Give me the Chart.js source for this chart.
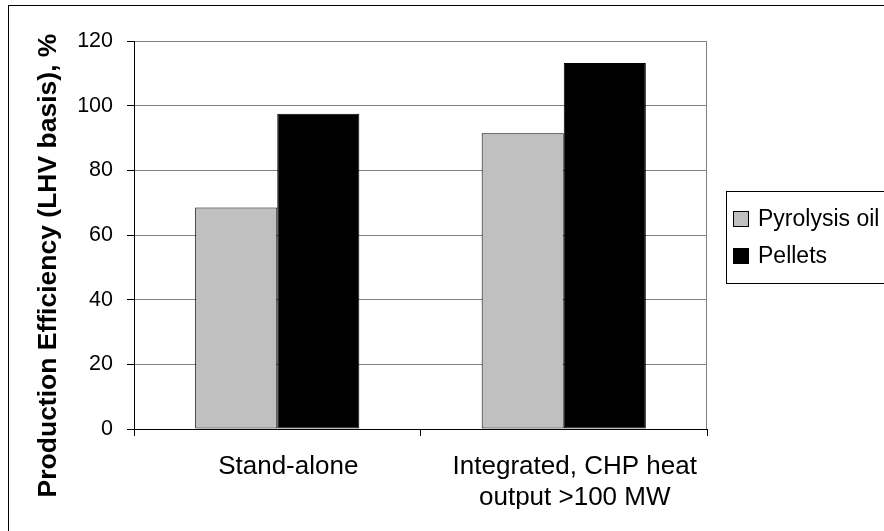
<!DOCTYPE html>
<html>
<head>
<meta charset="utf-8">
<script src="https://cdn.jsdelivr.net/npm/chart.js@4.4.1/dist/chart.umd.min.js"></script>
<style>
  html, body { margin: 0; padding: 0; background: #ffffff; }
  #wrap { width: 884px; height: 531px; position: relative; }
</style>
</head>
<body>
<div id="wrap"><canvas id="chart" width="884" height="531"></canvas></div>
<script>
// Categories (multi-line labels are arrays)
const categories = ['Stand-alone', ['Integrated, CHP heat', 'output >100 MW']];

// Series values, production efficiency in %
const seriesNames = ['Pyrolysis oil', 'Pellets'];
const pyrolysisOil = [68.5, 91.5];
const pellets = [97.5, 113.2];

// Y axis ticks
const yTickMin = 0;
const yTickMax = 120;
const yTickStep = 20;

const yTitle = 'Production Efficiency (LHV basis), %';

const FONT = '"Liberation Sans", Arial, sans-serif';

// Frame, right plot border, rotated axis title and boxed legend
const decorations = {
  id: 'decorations',
  beforeDraw(chart) {
    const ctx = chart.ctx;
    ctx.save();
    ctx.fillStyle = '#ffffff';
    ctx.fillRect(0, 0, chart.width, chart.height);
    ctx.restore();
  },
  afterDraw(chart) {
    const ctx = chart.ctx;
    const area = chart.chartArea;
    ctx.save();

    // outer frame
    ctx.strokeStyle = '#000000';
    ctx.lineWidth = 1;
    ctx.strokeRect(8.5, 5.5, 2000, 2000);

    // right edge of plot area
    ctx.strokeStyle = '#808080';
    ctx.beginPath();
    ctx.moveTo(Math.round(area.right) - 0.5, area.top);
    ctx.lineTo(Math.round(area.right) - 0.5, area.bottom);
    ctx.stroke();

    // y axis title
    ctx.fillStyle = '#000000';
    ctx.font = 'bold 26.5px ' + FONT;
    ctx.textAlign = 'center';
    ctx.textBaseline = 'middle';
    ctx.translate(49, 265.5);
    ctx.rotate(-Math.PI / 2);
    ctx.fillText(yTitle, 0, 0);
    ctx.restore();

    // legend
    ctx.save();
    ctx.strokeStyle = '#000000';
    ctx.lineWidth = 1;
    ctx.strokeRect(726.5, 191.5, 300, 92);
    ctx.font = '23px ' + FONT;
    ctx.textAlign = 'left';
    ctx.textBaseline = 'middle';
    chart.data.datasets.forEach((ds, i) => {
      const cy = 219 + i * 37;
      ctx.fillStyle = ds.backgroundColor;
      ctx.fillRect(733.5, cy - 7.5, 15, 15);
      ctx.strokeStyle = '#000000';
      ctx.strokeRect(733.5, cy - 7.5, 15, 15);
      ctx.fillStyle = '#000000';
      ctx.fillText(ds.label, 758, cy + 1);
    });
    ctx.restore();
  }
};

new Chart(document.getElementById('chart'), {
  type: 'bar',
  data: {
    labels: categories,
    datasets: [
      {
        label: seriesNames[0],
        data: pyrolysisOil,
        backgroundColor: '#c0c0c0',
        borderColor: '#000000',
        borderWidth: 1,
        borderSkipped: false
      },
      {
        label: seriesNames[1],
        data: pellets,
        backgroundColor: '#000000',
        borderColor: '#000000',
        borderWidth: 1,
        borderSkipped: false
      }
    ]
  },
  options: {
    responsive: false,
    animation: false,
    devicePixelRatio: 1,
    categoryPercentage: 0.573,
    barPercentage: 1.0,
    layout: { padding: { left: 0, top: 41, right: 177, bottom: 22 } },
    plugins: {
      legend: { display: false },
      tooltip: { enabled: false },
      title: { display: false }
    },
    scales: {
      x: {
        afterFit(scale) { scale.height = 80; },
        grid: {
          offset: true,
          drawOnChartArea: false,
          drawTicks: true,
          tickLength: 7,
          tickColor: '#000000'
        },
        border: { color: '#000000', width: 1 },
        ticks: {
          autoSkip: false,
          maxRotation: 0,
          minRotation: 0,
          padding: 15,
          labelOffset: 11,
          color: '#000000',
          font: { family: FONT, size: 26 }
        }
      },
      y: {
        min: yTickMin,
        max: yTickMax,
        afterFit(scale) { scale.width = 134; },
        grid: {
          color: '#808080',
          lineWidth: 1,
          drawTicks: true,
          tickLength: 7,
          tickColor: '#000000'
        },
        border: { color: '#000000', width: 1 },
        ticks: {
          stepSize: yTickStep,
          padding: 14,
          color: '#000000',
          font: { family: FONT, size: 21.5 }
        }
      }
    }
  },
  plugins: [decorations]
});
</script>
</body>
</html>
